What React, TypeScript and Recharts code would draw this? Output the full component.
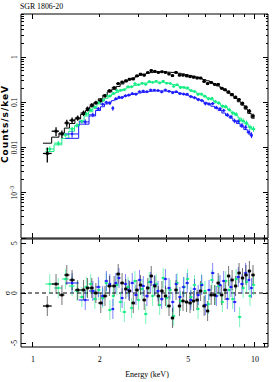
import React from 'react'
import { ComposedChart, Scatter, Line, XAxis, YAxis, ErrorBar, ReferenceLine } from 'recharts'

// three spectra: bin energy (keV), rate (counts/s/keV), 1-sigma error, folded model, residual (sigma)
const blackE = [
  1.16, 1.27, 1.35, 1.42, 1.5, 1.59, 1.69, 1.76, 1.84, 1.92,
  2.02, 2.11, 2.21, 2.32, 2.42, 2.52, 2.62, 2.72, 2.83, 2.94,
  3.05, 3.17, 3.29, 3.41, 3.54, 3.67, 3.81, 3.95, 4.1, 4.25,
  4.41, 4.57, 4.74, 4.92, 5.1, 5.29, 5.49, 5.69, 5.9, 6.12,
  6.35, 6.58, 6.83, 7.08, 7.34, 7.61, 7.89, 8.18, 8.48, 8.79,
  9.11, 9.44, 9.8,
]
const blackRate = [
  0.0074, 0.023, 0.02, 0.035, 0.04, 0.045, 0.058, 0.072, 0.087, 0.098,
  0.11, 0.14, 0.18, 0.21, 0.26, 0.28, 0.3, 0.325, 0.33, 0.385,
  0.42, 0.4, 0.455, 0.505, 0.485, 0.46, 0.475, 0.46, 0.425, 0.39,
  0.46, 0.4, 0.4, 0.385, 0.37, 0.36, 0.345, 0.345, 0.29, 0.26,
  0.275, 0.25, 0.25, 0.205, 0.19, 0.17, 0.15, 0.13, 0.115, 0.095,
  0.078, 0.064, 0.05,
]
const blackErr = [
  0.0027, 0.005, 0.004, 0.006, 0.006, 0.006, 0.008, 0.009, 0.009, 0.01,
  0.011, 0.013, 0.015, 0.016, 0.018, 0.019, 0.02, 0.021, 0.022, 0.024,
  0.025, 0.026, 0.027, 0.028, 0.028, 0.028, 0.028, 0.028, 0.027, 0.027,
  0.026, 0.026, 0.025, 0.024, 0.024, 0.023, 0.022, 0.021, 0.02, 0.019,
  0.018, 0.017, 0.016, 0.015, 0.014, 0.013, 0.012, 0.011, 0.01, 0.009,
  0.008, 0.007, 0.006,
]
const blackModel = [
  0.0125, 0.017, 0.021, 0.027, 0.034, 0.043, 0.054, 0.066, 0.08, 0.098,
  0.12, 0.145, 0.17, 0.195, 0.225, 0.255, 0.285, 0.315, 0.345, 0.375,
  0.4, 0.42, 0.44, 0.455, 0.465, 0.47, 0.47, 0.47, 0.465, 0.46,
  0.45, 0.44, 0.425, 0.41, 0.395, 0.38, 0.36, 0.34, 0.32, 0.3,
  0.28, 0.255, 0.23, 0.21, 0.183, 0.16, 0.14, 0.122, 0.103, 0.087,
  0.071, 0.057, 0.045,
]
const blackResid = [
  -1.3, 0.9, -0.2, 1.8, 1.3, 0.3, 0.3, 0.5, 0.5, 0.0,
  -1.0, -0.3, 0.7, 0.7, 1.9, 1.0, 0.4, 0.2, -1.0, 0.3,
  0.8, -0.7, 0.5, 1.7, 0.7, -0.3, 0.2, -0.3, -1.3, -2.5,
  0.3, -1.3, -0.8, -0.9, -1.0, -0.8, -0.7, 0.2, -1.3, -1.8,
  -0.2, -0.2, 1.0, -0.2, 0.3, 1.7, 1.3, 0.7, 2.0, 1.5,
  1.8, 2.2, 1.8,
]

const greenE = [
  1.19, 1.3, 1.4, 1.5, 1.58, 1.66, 1.74, 1.82, 1.9, 1.98,
  2.06, 2.14, 2.22, 2.3, 2.39, 2.48, 2.58, 2.68, 2.78, 2.88,
  2.99, 3.1, 3.22, 3.34, 3.46, 3.59, 3.72, 3.86, 4.0, 4.15,
  4.3, 4.46, 4.62, 4.79, 4.97, 5.15, 5.34, 5.54, 5.74, 5.95,
  6.17, 6.4, 6.63, 6.88, 7.13, 7.39, 7.66, 7.94, 8.23, 8.53,
  8.85, 9.17, 9.5, 9.85,
]
const greenRate = [
  0.0093, 0.0125, 0.019, 0.026, 0.031, 0.038, 0.056, 0.068, 0.078, 0.1,
  0.112, 0.14, 0.138, 0.158, 0.183, 0.186, 0.19, 0.222, 0.22, 0.26,
  0.245, 0.265, 0.25, 0.29, 0.277, 0.295, 0.268, 0.295, 0.265, 0.262,
  0.225, 0.245, 0.212, 0.215, 0.21, 0.182, 0.175, 0.15, 0.153, 0.137,
  0.12, 0.123, 0.104, 0.097, 0.082, 0.081, 0.069, 0.058, 0.055, 0.04,
  0.039, 0.035, 0.028, 0.026,
]
const greenErr = [
  0.0013, 0.0015, 0.002, 0.0028, 0.0035, 0.004, 0.005, 0.006, 0.007, 0.008,
  0.009, 0.01, 0.011, 0.012, 0.013, 0.013, 0.014, 0.015, 0.015, 0.016,
  0.016, 0.017, 0.017, 0.017, 0.017, 0.017, 0.017, 0.017, 0.016, 0.016,
  0.016, 0.015, 0.015, 0.014, 0.014, 0.013, 0.013, 0.012, 0.011, 0.011,
  0.01, 0.0095, 0.009, 0.0085, 0.008, 0.0075, 0.007, 0.0065, 0.006, 0.0055,
  0.005, 0.0045, 0.004, 0.0035,
]
const greenModel = [
  0.0082, 0.0115, 0.016, 0.023, 0.03, 0.039, 0.05, 0.062, 0.076, 0.092,
  0.107, 0.123, 0.138, 0.152, 0.166, 0.18, 0.195, 0.21, 0.225, 0.237,
  0.248, 0.258, 0.267, 0.274, 0.279, 0.282, 0.28, 0.277, 0.27, 0.26,
  0.249, 0.236, 0.222, 0.21, 0.198, 0.185, 0.171, 0.159, 0.147, 0.135,
  0.124, 0.114, 0.104, 0.094, 0.085, 0.077, 0.068, 0.06, 0.052, 0.045,
  0.038, 0.033, 0.029, 0.025,
]
const greenResid = [
  0.9, 0.5, 1.4, 0.7, 0.2, -0.4, 0.6, 0.9, -0.6, 0.3,
  -0.5, 1.0, -1.7, -0.3, 0.8, -0.9, -1.9, 0.6, -1.5, 1.2,
  -0.7, 0.4, -2.1, 1.1, -0.3, 0.9, -1.2, 1.5, -0.5, 0.3,
  -2.3, 1.0, -0.8, 0.6, 1.4, -0.4, 0.8, -1.6, 0.9, 0.2,
  -1.1, 1.3, -0.2, 0.7, -0.9, 1.2, 0.3, -0.6, 1.4, -2.4,
  0.5, 1.1, -0.3, 0.8,
]

const blueE = [
  1.5, 1.72, 1.86, 1.97, 2.06, 2.14, 2.22, 2.29, 2.36, 2.44,
  2.52, 2.61, 2.7, 2.8, 2.91, 3.02, 3.14, 3.26, 3.39, 3.52,
  3.66, 3.8, 3.95, 4.1, 4.26, 4.42, 4.59, 4.77, 4.95, 5.14,
  5.34, 5.55, 5.76, 5.98, 6.21, 6.45, 6.7, 6.96, 7.23, 7.51,
  7.8, 8.1, 8.41, 8.74, 9.08, 9.4, 9.65,
]
const blueRate = [
  0.02, 0.037, 0.053, 0.072, 0.091, 0.1, 0.096, 0.074, 0.12, 0.13,
  0.128, 0.14, 0.145, 0.156, 0.152, 0.172, 0.178, 0.172, 0.188, 0.187,
  0.183, 0.17, 0.188, 0.176, 0.163, 0.172, 0.156, 0.153, 0.152, 0.134,
  0.127, 0.115, 0.11, 0.094, 0.092, 0.094, 0.077, 0.072, 0.066, 0.053,
  0.048, 0.039, 0.038, 0.031, 0.028, 0.022, 0.019,
]
const blueErr = [
  0.0035, 0.005, 0.006, 0.007, 0.008, 0.008, 0.009, 0.009, 0.01, 0.01,
  0.01, 0.011, 0.011, 0.011, 0.012, 0.012, 0.012, 0.012, 0.012, 0.012,
  0.012, 0.012, 0.012, 0.012, 0.011, 0.011, 0.011, 0.011, 0.01, 0.01,
  0.01, 0.0095, 0.009, 0.0085, 0.008, 0.0075, 0.007, 0.0065, 0.006, 0.0055,
  0.005, 0.0045, 0.004, 0.0038, 0.0035, 0.003, 0.0028,
]
const blueModel = [
  0.016, 0.033, 0.05, 0.066, 0.08, 0.092, 0.101, 0.109, 0.116, 0.123,
  0.13, 0.137, 0.143, 0.149, 0.155, 0.161, 0.166, 0.171, 0.175, 0.178,
  0.179, 0.179, 0.178, 0.175, 0.171, 0.166, 0.16, 0.152, 0.144, 0.136,
  0.127, 0.118, 0.109, 0.1, 0.091, 0.082, 0.074, 0.066, 0.058, 0.051,
  0.045, 0.039, 0.034, 0.029, 0.025, 0.021, 0.018,
]
const blueResid = [
  1.0, -0.7, 0.2, 0.6, -0.3, 1.2, 0.9, -1.6, 1.0, 1.5,
  -0.5, 0.9, 0.3, 1.0, -0.2, 1.3, 0.7, -0.3, 1.1, 0.8,
  0.2, -0.6, 1.4, 0.5, -0.9, 0.9, -0.4, 0.6, 1.0, -0.7,
  0.4, -0.2, 0.8, -1.2, 0.3, 2.0, -0.3, 0.8, 1.2, -0.6,
  0.6, -0.9, 1.6, 0.9, 2.0, 1.3, 0.5,
]

// axis ticks
const xTicks = [1, 2, 3, 4, 5, 6, 7, 8, 9, 10, 11]
const xLabels: Record<number, string> = { 1: '1', 2: '2', 5: '5', 10: '10' }
const decades = [0.0001, 0.001, 0.01, 0.1, 1]
const mantissas = [1, 2, 3, 4, 5, 6, 7, 8, 9]
const rateTicks = decades.flatMap((d) => mantissas.map((m) => +(m * d).toPrecision(2)))
const rateLabels: Record<string, string> = { '1': '1', '0.1': '0.1', '0.01': '0.01', '0.001': '10' }
const residTicks = [-5, -4, -3, -2, -1, 0, 1, 2, 3, 4, 5]
const residLabels: Record<string, string> = { '5': '5', '0': '0', '-5': '-5' }

const INK = '#000'
const GREEN = '#14ec84'
const BLUE = '#1c1cff'
const SERIF = '"Liberation Serif", "Times New Roman", serif'
const xDomain = [0.883, 11.45]

function binEdges(es: number[]) {
  return es.map((e, i) => {
    const lo = i > 0 ? Math.sqrt(es[i - 1] * e) : (e * e) / Math.sqrt(e * es[1])
    const hi = i < es.length - 1 ? Math.sqrt(e * es[i + 1]) : (e * e) / Math.sqrt(es[i - 1] * e)
    return [lo, hi]
  })
}

function points(es: number[], rates: number[], errs: number[]) {
  const ed = binEdges(es)
  return es.map((e, i) => ({
    e,
    v: rates[i],
    xe: [e - ed[i][0], ed[i][1] - e],
    ye: [Math.min(errs[i], rates[i] * 0.9), errs[i]],
  }))
}

function steps(es: number[], model: number[]) {
  const ed = binEdges(es)
  return es.flatMap((e, i) => [
    { e: ed[i][0], v: model[i] },
    { e: ed[i][1], v: model[i] },
  ])
}

function residuals(es: number[], r: number[]) {
  const ed = binEdges(es)
  return es.map((e, i) => ({ e, r: r[i], xe: [e - ed[i][0], ed[i][1] - e], re: 1 }))
}

const series = [
  { color: GREEN, w: 1, size: 2.2, pts: points(greenE, greenRate, greenErr), mod: steps(greenE, greenModel), res: residuals(greenE, greenResid) },
  { color: BLUE, w: 1, size: 2.2, pts: points(blueE, blueRate, blueErr), mod: steps(blueE, blueModel), res: residuals(blueE, blueResid) },
  { color: INK, w: 1.3, size: 2.8, pts: points(blackE, blackRate, blackErr), mod: steps(blackE, blackModel), res: residuals(blackE, blackResid) },
]

// ticks drawn inward like the original plot; dir=1 means bottom/left axis
function xTick(dir: number, labelled: boolean) {
  return (p: any) => {
    const v = p.payload.value
    const len = v === 1 || v === 10 ? 5 : 3
    return (
      <g>
        <line x1={p.x} x2={p.x} y1={p.y} y2={p.y - dir * len} stroke={INK} shapeRendering="crispEdges" />
        {labelled && xLabels[v] ? (
          <text x={p.x} y={p.y + 15} textAnchor="middle" fontSize={8} fontFamily={SERIF} fill={INK}>
            {xLabels[v]}
          </text>
        ) : null}
      </g>
    )
  }
}

function yTick(dir: number, labels: Record<string, string> | null, isMajor: (v: number) => boolean) {
  return (p: any) => {
    const v = p.payload.value
    const len = isMajor(v) ? 5 : 2.5
    const lab = labels ? labels[String(v)] : undefined
    return (
      <g>
        <line x1={p.x} x2={p.x + dir * len} y1={p.y} y2={p.y} stroke={INK} shapeRendering="crispEdges" />
        {lab ? (
          <text
            transform={`translate(${p.x - 7},${p.y}) rotate(-90)`}
            textAnchor="middle"
            dy="0.35em"
            fontSize={7.5}
            fontFamily={SERIF}
            fill={INK}
          >
            {lab}
            {v === 0.001 ? (
              <tspan dy={-3} fontSize={5.5}>
                −3
              </tspan>
            ) : null}
          </text>
        ) : null}
      </g>
    )
  }
}

const rateMajor = (v: number) => decades.includes(v)
const residMajor = (v: number) => v % 5 === 0

const dot = (color: string, size: number) => (p: any) => (
  <rect x={p.cx - size / 2} y={p.cy - size / 2} width={size} height={size} fill={color} />
)

export default function App() {
  const axisLine = { stroke: INK }
  return (
    <div style={{ position: 'absolute', left: 0, top: 0, width: 273, height: 382, background: '#fff' }}>
      <div style={{ position: 'absolute', left: 0, top: 0 }}>
        <ComposedChart width={273} height={240} margin={{ top: 13, right: 4, bottom: 1, left: 20 }}>
          <XAxis xAxisId="x" type="number" dataKey="e" scale="log" domain={xDomain} allowDataOverflow
            ticks={xTicks} interval={0} height={1} tickSize={0} tickMargin={0} tickLine={false}
            axisLine={axisLine} tick={xTick(1, false)} />
          <XAxis xAxisId="xt" orientation="top" type="number" dataKey="e" scale="log" domain={xDomain} allowDataOverflow
            ticks={xTicks} interval={0} height={1} tickSize={0} tickMargin={0} tickLine={false}
            axisLine={axisLine} tick={xTick(-1, false)} />
          <YAxis yAxisId="y" type="number" dataKey="v" scale="log" domain={[0.0001, 9]} allowDataOverflow
            ticks={rateTicks} interval={0} width={1} tickSize={0} tickMargin={0} tickLine={false}
            axisLine={axisLine} tick={yTick(1, rateLabels, rateMajor)} />
          <YAxis yAxisId="yr" orientation="right" type="number" dataKey="v" scale="log" domain={[0.0001, 9]} allowDataOverflow
            ticks={rateTicks} interval={0} width={1} tickSize={0} tickMargin={0} tickLine={false}
            axisLine={axisLine} tick={yTick(-1, null, rateMajor)} />
          {series.map((s, i) => (
            <Line key={`m${i}`} xAxisId="x" yAxisId="y" data={s.mod} dataKey="v" type="linear"
              stroke={s.color} strokeWidth={1} dot={false} isAnimationActive={false} />
          ))}
          {series.map((s, i) => (
            <Scatter key={`p${i}`} xAxisId="x" yAxisId="y" data={s.pts} fill={s.color}
              shape={dot(s.color, s.size)} isAnimationActive={false}>
              <ErrorBar dataKey="xe" direction="x" width={0} stroke={s.color} strokeWidth={s.w} />
              <ErrorBar dataKey="ye" direction="y" width={0} stroke={s.color} strokeWidth={s.w} />
            </Scatter>
          ))}
        </ComposedChart>
      </div>
      <div style={{ position: 'absolute', left: 0, top: 238 }}>
        <ComposedChart width={273} height={144} margin={{ top: 0, right: 4, bottom: 34, left: 20 }}>
          <XAxis xAxisId="x" type="number" dataKey="e" scale="log" domain={xDomain} allowDataOverflow
            ticks={xTicks} interval={0} height={1} tickSize={0} tickMargin={0} tickLine={false}
            axisLine={axisLine} tick={xTick(1, true)} />
          <XAxis xAxisId="xt" orientation="top" type="number" dataKey="e" scale="log" domain={xDomain} allowDataOverflow
            ticks={xTicks} interval={0} height={1} tickSize={0} tickMargin={0} tickLine={false}
            axisLine={axisLine} tick={xTick(-1, false)} />
          <YAxis yAxisId="y" type="number" dataKey="r" domain={[-5.4, 5.4]} allowDataOverflow
            ticks={residTicks} interval={0} width={1} tickSize={0} tickMargin={0} tickLine={false}
            axisLine={axisLine} tick={yTick(1, residLabels, residMajor)} />
          <YAxis yAxisId="yr" orientation="right" type="number" dataKey="r" domain={[-5.4, 5.4]} allowDataOverflow
            ticks={residTicks} interval={0} width={1} tickSize={0} tickMargin={0} tickLine={false}
            axisLine={axisLine} tick={yTick(-1, null, residMajor)} />
          <ReferenceLine xAxisId="x" yAxisId="y" y={0} stroke="#555" strokeWidth={1.5} strokeDasharray="4 3" />
          {series.map((s, i) => (
            <Scatter key={`r${i}`} xAxisId="x" yAxisId="y" data={s.res} fill={s.color}
              shape={dot(s.color, s.size)} isAnimationActive={false}>
              <ErrorBar dataKey="xe" direction="x" width={0} stroke={s.color} strokeWidth={s.w} />
              <ErrorBar dataKey="re" direction="y" width={0} stroke={s.color} strokeWidth={1} strokeOpacity={0.55} />
            </Scatter>
          ))}
        </ComposedChart>
      </div>
      <svg width={273} height={382} style={{ position: 'absolute', left: 0, top: 0, pointerEvents: 'none' }}>
        <text x={20} y={9} fontSize={7.8} fontFamily={SERIF} fill={INK}>SGR 1806-20</text>
        <text transform="translate(8,124) rotate(-90)" textAnchor="middle" fontSize={9} fontWeight="bold"
          fontFamily='"DejaVu Sans", sans-serif' letterSpacing={1} fill={INK}>Counts/s/keV</text>
        <text transform="translate(7,293) rotate(-90)" textAnchor="middle" dy="0.35em" fontSize={8}
          fontFamily={SERIF} fill={INK}>σ</text>
        <text x={147} y={377} textAnchor="middle" fontSize={8} fontFamily={SERIF} fill={INK}>Energy (keV)</text>
      </svg>
    </div>
  )
}
